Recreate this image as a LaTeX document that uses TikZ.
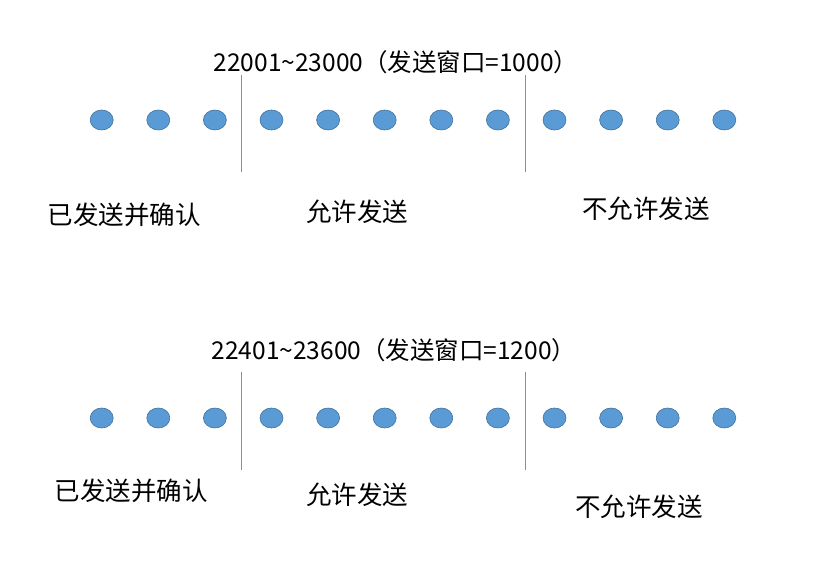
\documentclass[tikz,border=0pt]{standalone}
\usepackage{fontspec}
\setmainfont{Noto Sans CJK SC}
\usetikzlibrary{shapes.geometric}
\definecolor{dotblue}{HTML}{5B9BD5}
\definecolor{dotedge}{HTML}{41719C}

\begin{document}
\begin{tikzpicture}[x=1pt, y=-1pt, node distance=56.6pt,
  dot/.style={draw=dotedge, fill=dotblue, ellipse, minimum width=23pt, minimum height=20pt, inner sep=0pt, line width=0.6pt},
  bar/.style={draw=dotblue, line width=0.9pt},
  title/.style={font=\fontsize{24.5}{28}\selectfont, inner sep=0pt},
  lbl/.style={font=\fontsize{25.5}{30}\selectfont, inner sep=0pt}]
\useasboundingbox (0,0) rectangle (827,561);
% upper window
\node (t)[title] at (396,62) {22001\textasciitilde23000（发送窗口=1000）};
\node (a1)[dot] at (101.7,120) {};
\node (a2)[dot]   [right of = a1] {};
\node (a3)[dot]   [right of = a2] {};
\node (a4)[dot]   [right of = a3] {};
\node (a5)[dot]   [right of = a4] {};
\node (a6)[dot]   [right of = a5] {};
\node (a7)[dot]   [right of = a6] {};
\node (a8)[dot]   [right of = a7] {};
\node (a9)[dot]   [right of = a8] {};
\node (a10)[dot]  [right of = a9] {};
\node (a11)[dot]  [right of = a10] {};
\node (a12)[dot]  [right of = a11] {};
\coordinate (ua1) at (241.7,75);
\coordinate (ub1) at (241.7,172);
\coordinate (ua2) at (525.7,75);
\coordinate (ub2) at (525.7,172);
\draw[bar] (ua1) -- (ub1);
\draw[bar] (ua2) -- (ub2);
\node (la1)[lbl] at (124,215) {已发送并确认};
\node (la2)[lbl] at (357,212) {允许发送};
\node (la3)[lbl] at (646,209) {不允许发送};
% lower window
\node (s)[title] at (394,350) {22401\textasciitilde23600（发送窗口=1200）};
\node (b1)[dot] at (101.7,418) {};
\node (b2)[dot]   [right of = b1] {};
\node (b3)[dot]   [right of = b2] {};
\node (b4)[dot]   [right of = b3] {};
\node (b5)[dot]   [right of = b4] {};
\node (b6)[dot]   [right of = b5] {};
\node (b7)[dot]   [right of = b6] {};
\node (b8)[dot]   [right of = b7] {};
\node (b9)[dot]   [right of = b8] {};
\node (b10)[dot]  [right of = b9] {};
\node (b11)[dot]  [right of = b10] {};
\node (b12)[dot]  [right of = b11] {};
\coordinate (va1) at (241.7,372);
\coordinate (vb1) at (241.7,470);
\coordinate (va2) at (525.7,372);
\coordinate (vb2) at (525.7,470);
\draw[bar] (va1) -- (vb1);
\draw[bar] (va2) -- (vb2);
\node (lb1)[lbl] at (131,491) {已发送并确认};
\node (lb2)[lbl] at (357,495) {允许发送};
\node (lb3)[lbl] at (639,507) {不允许发送};
\end{tikzpicture}
\end{document}
